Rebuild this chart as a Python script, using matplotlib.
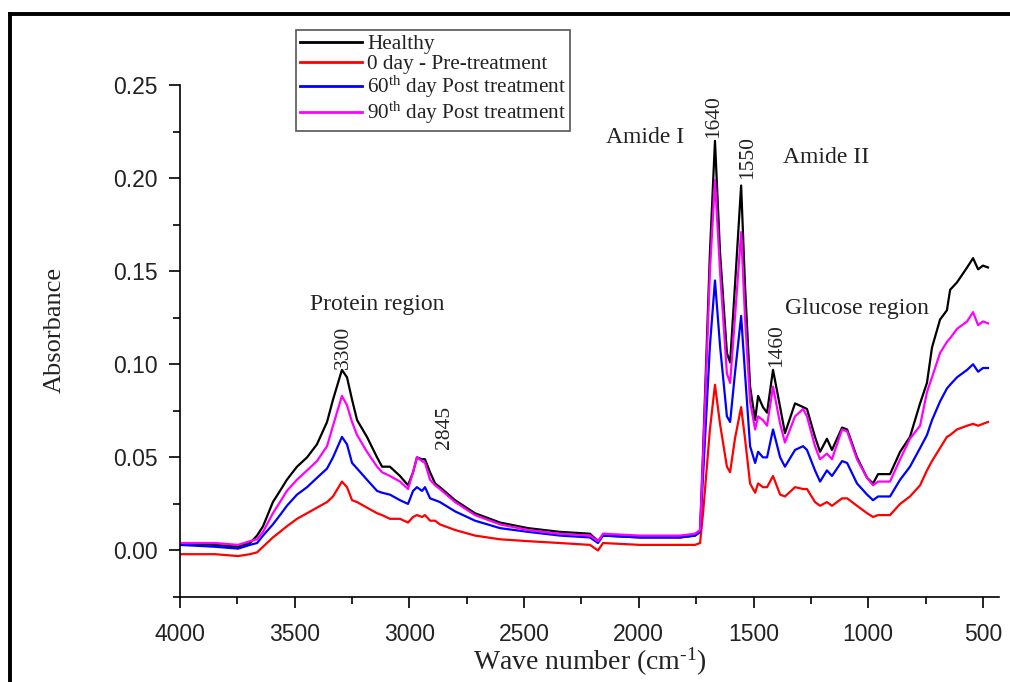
import matplotlib
matplotlib.use("Agg")
import matplotlib.pyplot as plt
from matplotlib.lines import Line2D
from matplotlib.ticker import MultipleLocator

plt.rcParams['mathtext.fontset'] = 'custom'
plt.rcParams['mathtext.rm'] = 'Liberation Serif'
plt.rcParams['mathtext.it'] = 'Liberation Serif:italic'

# ---------------- data ----------------
wavenumber = [4000, 3847, 3747, 3695, 3664, 3638, 3595, 3564, 3534, 3490,
              3446, 3403, 3359, 3333, 3294, 3272, 3250, 3228, 3185, 3141,
              3119, 3085, 3041, 3006, 2984, 2967, 2945, 2932, 2910, 2888,
              2867, 2801, 2714, 2605, 2483, 2344, 2213, 2178, 2156, 1995,
              1820, 1755, 1733, 1720, 1690, 1668, 1646, 1616, 1602, 1581,
              1554, 1537, 1515, 1493, 1480, 1459, 1441, 1415, 1384, 1363,
              1319, 1284, 1267, 1232, 1210, 1180, 1158, 1114, 1092, 1049,
              1005, 979, 957, 905, 861, 818, 774, 744, 722, 687,
              657, 643, 613, 569, 543, 521, 500, 478]

healthy = [0.004, 0.003, 0.002, 0.004, 0.008, 0.013, 0.026, 0.032, 0.038, 0.045,
           0.050, 0.057, 0.069, 0.081, 0.097, 0.093, 0.081, 0.070, 0.061, 0.050,
           0.045, 0.045, 0.040, 0.035, 0.042, 0.050, 0.049, 0.049, 0.042, 0.036,
           0.034, 0.027, 0.020, 0.015, 0.012, 0.010, 0.009, 0.005, 0.008, 0.007,
           0.007, 0.008, 0.010, 0.053, 0.160, 0.220, 0.160, 0.106, 0.101, 0.142,
           0.196, 0.142, 0.088, 0.070, 0.083, 0.077, 0.074, 0.097, 0.077, 0.063,
           0.079, 0.077, 0.076, 0.061, 0.053, 0.060, 0.054, 0.066, 0.065, 0.050,
           0.039, 0.036, 0.041, 0.041, 0.053, 0.061, 0.079, 0.090, 0.109, 0.124,
           0.129, 0.140, 0.144, 0.152, 0.157, 0.151, 0.153, 0.152]

day0 = [-0.002, -0.002, -0.003, -0.002, -0.001, 0.002, 0.007, 0.010, 0.013, 0.017,
        0.020, 0.023, 0.026, 0.029, 0.037, 0.034, 0.027, 0.026, 0.023, 0.020,
        0.019, 0.017, 0.017, 0.015, 0.018, 0.019, 0.018, 0.019, 0.016, 0.016,
        0.014, 0.011, 0.008, 0.006, 0.005, 0.004, 0.003, 0.000, 0.004, 0.003,
        0.003, 0.003, 0.004, 0.020, 0.065, 0.089, 0.068, 0.045, 0.042, 0.060,
        0.077, 0.060, 0.036, 0.031, 0.036, 0.034, 0.034, 0.040, 0.030, 0.029,
        0.034, 0.033, 0.033, 0.026, 0.024, 0.026, 0.024, 0.028, 0.028, 0.024,
        0.020, 0.018, 0.019, 0.019, 0.025, 0.029, 0.035, 0.043, 0.048, 0.055,
        0.061, 0.062, 0.065, 0.067, 0.068, 0.067, 0.068, 0.069]

day60 = [0.003, 0.002, 0.001, 0.003, 0.004, 0.008, 0.014, 0.019, 0.024, 0.030,
         0.034, 0.039, 0.044, 0.050, 0.061, 0.057, 0.047, 0.044, 0.038, 0.032,
         0.031, 0.030, 0.027, 0.025, 0.032, 0.034, 0.032, 0.034, 0.028, 0.027,
         0.026, 0.021, 0.016, 0.012, 0.010, 0.008, 0.007, 0.004, 0.008, 0.007,
         0.007, 0.008, 0.010, 0.040, 0.110, 0.145, 0.110, 0.072, 0.069, 0.095,
         0.126, 0.095, 0.056, 0.047, 0.053, 0.050, 0.050, 0.065, 0.050, 0.045,
         0.054, 0.056, 0.054, 0.043, 0.037, 0.043, 0.040, 0.048, 0.047, 0.036,
         0.030, 0.027, 0.029, 0.029, 0.038, 0.045, 0.055, 0.062, 0.070, 0.080,
         0.087, 0.089, 0.093, 0.097, 0.100, 0.096, 0.098, 0.098]

day90 = [0.004, 0.004, 0.003, 0.005, 0.006, 0.010, 0.020, 0.026, 0.032, 0.038,
         0.043, 0.048, 0.056, 0.067, 0.083, 0.078, 0.069, 0.062, 0.053, 0.045,
         0.042, 0.040, 0.037, 0.033, 0.042, 0.050, 0.048, 0.047, 0.038, 0.035,
         0.033, 0.026, 0.019, 0.014, 0.011, 0.009, 0.008, 0.005, 0.009, 0.008,
         0.008, 0.009, 0.011, 0.050, 0.150, 0.199, 0.150, 0.095, 0.090, 0.125,
         0.171, 0.125, 0.080, 0.065, 0.072, 0.070, 0.067, 0.088, 0.068, 0.058,
         0.072, 0.076, 0.072, 0.056, 0.049, 0.052, 0.049, 0.065, 0.064, 0.049,
         0.039, 0.035, 0.037, 0.037, 0.049, 0.060, 0.067, 0.085, 0.093, 0.106,
         0.112, 0.114, 0.119, 0.123, 0.128, 0.121, 0.123, 0.122]

series_labels = ["Healthy", "0 day - Pre-treatment",
                 "60$^{\\rm th}$ day Post treatment",
                 "90$^{\\rm th}$ day Post treatment"]
series_colors = ["black", "#ff0000", "#0000ff", "#ff00ff"]

annot_texts = ["Protein region", "3300", "2845", "Amide I", "1640", "1550",
               "Amide II", "Glucose region", "1460"]
annot_x = [3141, 3289, 2845, 1973, 1672, 1524, 1184, 1049, 1398]
annot_y = [0.132, 0.109, 0.066, 0.222, 0.233, 0.211, 0.211, 0.130, 0.110]
annot_rot = [0, 90, 90, 0, 90, 90, 0, 0, 90]

# ---------------- figure ----------------
fig = plt.figure(figsize=(10.10, 6.82), dpi=100)
ax = fig.add_axes([0.1782, 0.1246, 0.8109, 0.7508])

for vals, lab, col in zip([healthy, day0, day60, day90], series_labels, series_colors):
    ax.plot(wavenumber, vals, color=col, lw=1.6, label=lab)

ax.set_xlim(4000, 430)
ax.set_ylim(-0.025, 0.25)
ax.xaxis.set_major_locator(MultipleLocator(500))
ax.xaxis.set_minor_locator(MultipleLocator(250))
ax.yaxis.set_major_locator(MultipleLocator(0.05))
ax.yaxis.set_minor_locator(MultipleLocator(0.025))
ax.yaxis.set_major_formatter(plt.FuncFormatter(lambda v, p: f"{v:.2f}"))

for s in ["top", "right"]:
    ax.spines[s].set_visible(False)
for s in ["left", "bottom"]:
    ax.spines[s].set_linewidth(1.2)
ax.tick_params(which='major', direction='out', length=8, width=1.2,
               labelsize=16.5)
ax.tick_params(which='minor', direction='out', length=5, width=1.2)
ax.tick_params(axis='x', which='major', pad=10.5)
ax.tick_params(axis='y', which='major', pad=8)
for t in ax.get_xticklabels() + ax.get_yticklabels():
    t.set_fontfamily('Liberation Sans')
    t.set_color('#222222')

ax.set_xlabel("Wave number (cm$^{\\text{-}1}$)", fontfamily='Liberation Serif',
              fontsize=20, color='#222222', labelpad=0)
ax.set_ylabel("Absorbance", fontfamily='Liberation Serif', fontsize=19,
              color='#222222')
ax.yaxis.set_label_coords(-0.139, 0.522)

for txt, x, y, r in zip(annot_texts, annot_x, annot_y, annot_rot):
    ax.text(x, y, txt, rotation=r, ha='center', va='center',
            fontfamily='Liberation Serif',
            fontsize=(15.5 if r else 17), color='#222222')

leg = ax.legend(loc='upper left', bbox_to_anchor=(296 / 1010, 1 - 30 / 682),
                bbox_transform=fig.transFigure, borderaxespad=0,
                prop={'family': 'Liberation Serif', 'size': 15.3},
                frameon=True, fancybox=False, framealpha=1,
                edgecolor='#555555', handlelength=2.9, handletextpad=0.25,
                labelspacing=0.0, borderpad=0.2)
leg.get_frame().set_linewidth(1.2)
for t in leg.get_texts():
    t.set_color('#222222')
for h in leg.get_lines():
    h.set_linewidth(2.0)

# thick page border (top and left)
fig.add_artist(Line2D([9.5 / 1010, 1.0], [1 - 13.5 / 682, 1 - 13.5 / 682],
                      transform=fig.transFigure, color='black', lw=2.8,
                      solid_capstyle='projecting'))
fig.add_artist(Line2D([9.5 / 1010, 9.5 / 1010], [0.0, 1 - 13.5 / 682],
                      transform=fig.transFigure, color='black', lw=2.8,
                      solid_capstyle='projecting'))

fig.savefig("out.png", dpi=100)
